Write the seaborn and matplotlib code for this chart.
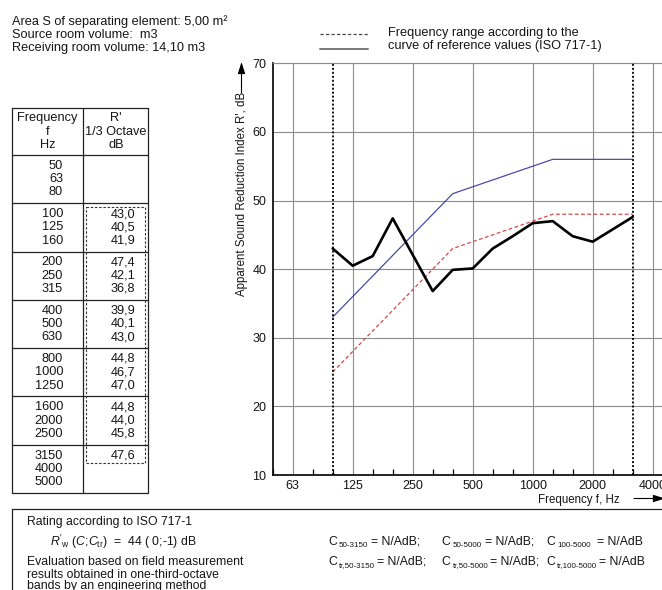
import numpy as np
import pandas as pd
import matplotlib
matplotlib.use("Agg")
import matplotlib.pyplot as plt
import seaborn as sns

# ---------------- data ----------------
bands = ["50", "63", "80", "100", "125", "160", "200", "250", "315", "400", "500",
         "630", "800", "1000", "1250", "1600", "2000", "2500", "3150", "4000", "5000"]
measured_bands = ["100", "125", "160", "200", "250", "315", "400", "500", "630",
                  "800", "1000", "1250", "1600", "2000", "2500", "3150"]
measured = [43.0, 40.5, 41.9, 47.4, 42.1, 36.8, 39.9, 40.1, 43.0,
            44.8, 46.7, 47.0, 44.8, 44.0, 45.8, 47.6]
reference = [33, 36, 39, 42, 45, 48, 51, 52, 53, 54, 55, 56, 56, 56, 56, 56]
shifted_reference = [25, 28, 31, 34, 37, 40, 43, 44, 45, 46, 47, 48, 48, 48, 48, 48]
octave_labels = ["63", "125", "250", "500", "1000", "2000", "4000"]
y_ticks = [10, 20, 30, 40, 50, 60, 70]

info_lines = ["Area S of separating element: 5,00 m²",
              "Source room volume:  m3",
              "Receiving room volume: 14,10 m3"]
legend_lines = ["Frequency range according to the",
                "curve of reference values (ISO 717-1)"]
table_header_f = ["Frequency", "f", "Hz"]
table_header_r = ["R'", "1/3 Octave", "dB"]
y_label = "Apparent Sound Reduction Index R', dB"
x_label = "Frequency f, Hz"
c_subs_row1 = ["50-3150", "50-5000", "100-5000"]
c_subs_row2 = ["tr,50-3150", "tr,50-5000", "tr,100-5000"]
c_values = ["N/A", "N/A", "N/A"]

# ---------------- style ----------------
sns.set_style("white")
plt.rcParams["font.family"] = ["Liberation Sans", "DejaVu Sans"]
plt.rcParams["mathtext.fontset"] = "custom"
plt.rcParams["mathtext.rm"] = "Liberation Sans"
plt.rcParams["mathtext.it"] = "Liberation Sans:italic"
plt.rcParams["mathtext.bf"] = "Liberation Sans:bold"

W, H = 662, 590
fig = plt.figure(figsize=(W / 100, H / 100), dpi=100)
fig.patch.set_facecolor("white")

# pixel-coordinate overlay for texts, table and frames
bg = fig.add_axes([0, 0, 1, 1], zorder=0)
bg.set_xlim(0, W)
bg.set_ylim(H, 0)
bg.axis("off")

FS = 9.2
TXT = "#151515"


def T(x, y, s, size=FS, **kw):
    kw.setdefault("ha", "left")
    kw.setdefault("va", "center")
    return bg.text(x, y, s, fontsize=size, color=TXT, **kw)


# header info
for i, s in enumerate(info_lines):
    T(12, 21.7 + 13.3 * i, s)

# legend
bg.plot([320, 368], [34, 34], color="#444444", lw=0.9, ls=(0, (2.6, 1.8)))
bg.plot([320, 368], [48.5, 48.5], color="#777777", lw=1.4)
T(388, 33.3, legend_lines[0])
T(388, 45.8, legend_lines[1])

# ---------------- table ----------------
tl, tr, tc = 12, 148, 83.3
ttop, thead, tbot = 108, 155, 493
lk = dict(color="#222222", lw=0.9)
bg.plot([tl, tr, tr, tl, tl], [ttop, ttop, tbot, tbot, ttop], **lk)
bg.plot([tc, tc], [ttop, tbot], **lk)
bg.plot([tl, tr], [thead, thead], **lk)
for i in range(3):
    T((tl + tc) / 2, 118.3 + 13.4 * i, table_header_f[i], ha="center")
    T((tc + tr) / 2 + 0.5, 118.3 + 13.4 * i, table_header_r[i], ha="center")

n_groups = len(bands) // 3
g_h = (tbot - thead) / n_groups
for g in range(n_groups):
    top = thead + g * g_h
    if g > 0:
        bg.plot([tl, tr], [top, top], **lk)
    for j in range(3):
        b = bands[3 * g + j]
        yy = top + 10.8 + 13.3 * j
        T(63, yy, b, ha="right")
        if b in measured_bands:
            v = measured[measured_bands.index(b)]
            T(135.5, yy, f"{v:.1f}".replace(".", ","), ha="right")

# dashed frame around measured range
i0 = bands.index(measured_bands[0])
i1 = bands.index(measured_bands[-1])
d_top = thead + (i0 // 3) * g_h + 3.5
d_bot = thead + (i1 // 3) * g_h + 10.8 + 13.3 * (i1 % 3) + 7
dk = dict(color="#333333", lw=0.8, ls=(0, (2.2, 1.6)))
bg.plot([85.5, 145, 145, 85.5, 85.5], [d_top, d_top, d_bot, d_bot, d_top], **dk)

# ---------------- bottom box ----------------
bk = dict(color="#222222", lw=0.9)
bg.plot([12, 12], [509, 600], **bk)
bg.plot([12, 700], [509, 509], **bk)
FB = 8.8
T(27, 521.5, "Rating according to ISO 717-1", size=FB)
T(50, 542, r"$R'_{\mathrm{w}}$ ($C$;$C_{\mathrm{tr}}$)  =  44 ( 0;-1) dB", size=FB)
T(27, 562, "Evaluation based on field measurement", size=FB)
T(27, 574.5, "results obtained in one-third-octave", size=FB)
T(27, 586.5, "bands by an engineering method", size=FB)

c_layout = [
    (542, c_subs_row1, [(328, 338.5, 371), (441, 453, 485), (546, 557.5, 597)]),
    (562, c_subs_row2, [(328, 339, 377), (441, 452.5, 490), (546, 557, 599)]),
]
for yy, subs, cols in c_layout:
    for k, (sub, (xc, xs, xe)) in enumerate(zip(subs, cols)):
        T(xc, yy, "C", size=FB)
        T(xs, yy + 3.5, sub, size=5.8)
        tail = ";" if k < len(subs) - 1 else ""
        T(xe, yy, f"= {c_values[k]}dB{tail}", size=FB)

# ---------------- chart ----------------
ax_l, ax_r = 272.7, 672.7
ax_t, ax_b = 63.3, 475.0
ax = fig.add_axes([ax_l / W, 1 - ax_b / H, (ax_r - ax_l) / W, (ax_b - ax_t) / H], zorder=1)

df = pd.DataFrame({
    "pos": [bands.index(b) for b in measured_bands],
    "measured": measured,
    "reference": reference,
    "shifted": shifted_reference,
})

sns.lineplot(data=df, x="pos", y="reference", ax=ax, color="#4a4aa8", lw=0.9)
sns.lineplot(data=df, x="pos", y="shifted", ax=ax, color="#d04a4a", lw=0.9,
             linestyle=(0, (3.0, 2.0)))
sns.lineplot(data=df, x="pos", y="measured", ax=ax, color="black", lw=1.9)

for b in (measured_bands[0], measured_bands[-1]):
    ax.axvline(bands.index(b), color="black", lw=1.3, ls=(0, (1.1, 1.1)), zorder=3)

ax.set_xlim(0, len(bands) - 1)
ax.set_ylim(y_ticks[0], y_ticks[-1])
ax.set_xticks([bands.index(b) for b in octave_labels])
ax.set_xticklabels(octave_labels)
ax.set_xticks(range(len(bands)), minor=True)
ax.set_yticks(y_ticks)
ax.set_xlabel("")
ax.set_ylabel("")
ax.set_axisbelow(True)
ax.grid(True, which="major", color="#8c8c8c", lw=0.8)
ax.tick_params(axis="x", which="major", length=0, pad=3.5, labelsize=9, labelcolor=TXT)
ax.tick_params(axis="x", which="minor", direction="in", length=4.2, width=0.9,
               color="black", bottom=True, top=False)
ax.tick_params(axis="y", length=0, pad=4.5, labelsize=9, labelcolor=TXT)
for s in ("left", "bottom"):
    ax.spines[s].set_color("black")
    ax.spines[s].set_linewidth(1.2)
ax.spines["top"].set_color("#8c8c8c")
ax.spines["top"].set_linewidth(0.8)
ax.spines["right"].set_visible(False)

# axis titles with arrows
T(241.5, 194, y_label, size=8.3, rotation=90, ha="center")
bg.annotate("", xy=(241.5, 62), xytext=(241.5, 93), annotation_clip=False,
            arrowprops=dict(arrowstyle="-|>,head_length=0.7,head_width=0.22",
                            color="black", lw=0.8, shrinkA=0, shrinkB=0))
T(538, 500, x_label, size=8.3)
bg.annotate("", xy=(665, 498.5), xytext=(634, 498.5), annotation_clip=False,
            arrowprops=dict(arrowstyle="-|>,head_length=0.7,head_width=0.22",
                            color="black", lw=0.8, shrinkA=0, shrinkB=0))

fig.savefig("out.png", dpi=100)
